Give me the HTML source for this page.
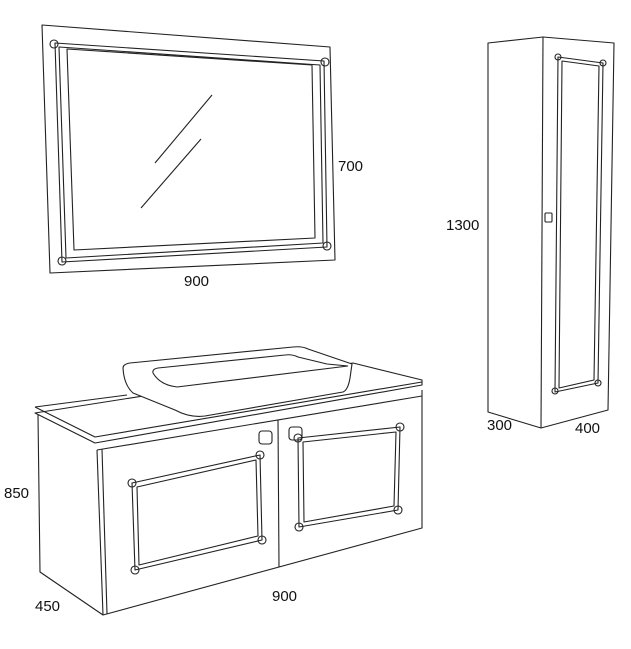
<!DOCTYPE html>
<html><head><meta charset="utf-8"><style>
html,body{margin:0;padding:0;background:#fff;width:631px;height:649px;overflow:hidden}
svg{display:block}
text{font-family:"Liberation Sans",Arial,sans-serif;font-size:15px;fill:#111}
</style></head><body>
<svg width="631" height="649" viewBox="0 0 631 649" xmlns="http://www.w3.org/2000/svg">
<g fill="none" stroke="#222" stroke-width="1.1" stroke-linejoin="round">
<!-- Mirror -->
<polygon points="42,25 330,47 335,260 50,273"/>
<polygon points="55,43 324,61 327,247 62,262"/>
<polygon points="59,47 320,65 323,243 66,258"/>
<polygon points="67,49 312,65 315,238 74,250"/>
<line x1="155" y1="163" x2="212" y2="95"/>
<line x1="141" y1="208" x2="201" y2="139"/>
<circle cx="54" cy="44" r="4"/><circle cx="325" cy="62" r="4"/>
<circle cx="327" cy="246" r="4"/><circle cx="62" cy="261" r="4"/>

<!-- Tall cabinet -->
<polygon points="488,43 543,37 614,43 608,410 541,428 488,412"/>
<line x1="543" y1="37" x2="541" y2="428"/>
<polygon points="558,57 603,63 598,383 555,392"/>
<polygon points="562,61 599,66 594,380 559,388"/>
<rect x="545" y="213" width="7" height="9" rx="1"/>
<circle cx="558" cy="57" r="3"/><circle cx="603" cy="63" r="3"/>
<circle cx="598" cy="383" r="3"/><circle cx="555" cy="391" r="3"/>

<!-- Vanity slab -->
<path d="M35,407 L127,395"/>
<path d="M353,363 L422,380 L422,385 L95,443 L35,413 Z"/>
<path d="M35,407 L95,437 L422,382"/>
<!-- body -->
<path d="M38,415 L40,572 L103,615 L422,528 L422,390"/>
<path d="M97,450 L103,615"/>
<path d="M102,449 L107,614"/>
<path d="M97,450 L422,396"/>
<line x1="278" y1="420" x2="279" y2="567"/>
<!-- door panels -->
<polygon points="132,483 260,455 262,540 135,570"/>
<polygon points="137,487 256,460 258,536 139,565"/>
<polygon points="298,438 400,427 398,510 299,527"/>
<polygon points="303,442 396,432 394,506 304,522"/>
<circle cx="132" cy="483" r="4"/><circle cx="260" cy="455" r="4"/>
<circle cx="262" cy="540" r="4"/><circle cx="135" cy="570" r="4"/>
<circle cx="298" cy="438" r="4"/><circle cx="400" cy="427" r="4"/>
<circle cx="398" cy="510" r="4"/><circle cx="299" cy="527" r="4"/>
<rect x="259" y="431" width="13" height="13" rx="3"/>
<rect x="289" y="427" width="13" height="13" rx="3"/>
<!-- basin -->
<path d="M123,368 Q123,364 130,363 L293,347 Q302,346 308,349 L352,364 L350,378 Q348,390 343,392 L205,416 Q190,418 175,410 L133,393 Q124,385 123,368 Z" fill="#fff"/>
<path d="M153,373 Q152,369 158,368 L285,355 Q292,354 298,357 L327,364 L348,366"/>
<path d="M153,373 Q160,385 177,387 L348,366"/>
</g>
<text x="338" y="171">700</text>
<text x="184" y="286">900</text>
<text x="446" y="230">1300</text>
<text x="487" y="430">300</text>
<text x="575" y="433">400</text>
<text x="4" y="498">850</text>
<text x="35" y="611">450</text>
<text x="272" y="601">900</text>
</svg>
</body></html>
